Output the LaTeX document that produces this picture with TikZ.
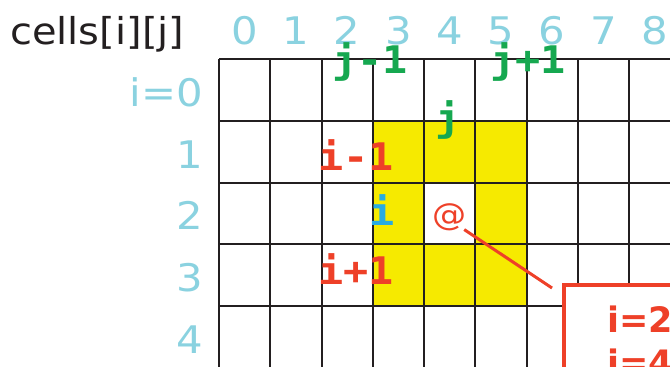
\documentclass[tikz,border=0pt]{standalone}
\usepackage{fontspec}
\newfontfamily\labfont[FakeStretch=1.1]{DejaVu Sans}
\newfontfamily\titlefont[FakeStretch=1.08]{DejaVu Sans}
\newfontfamily\codefont[FakeStretch=1.1]{DejaVu Sans Mono}
\newfontfamily\boxfont{DejaVu Sans}
\definecolor{lblue}{RGB}{138,210,224}
\definecolor{cgreen}{RGB}{22,168,80}
\definecolor{cred}{RGB}{238,64,40}
\definecolor{cblue}{RGB}{41,171,226}
\definecolor{cyell}{RGB}{246,234,0}
\definecolor{gridc}{RGB}{35,31,32}
\begin{document}
\begin{tikzpicture}[x=1pt,y=-1pt,
  gridline/.style={draw=gridc,line width=2pt},
  collab/.style={anchor=base,inner sep=0pt,text=lblue,font=\labfont\fontsize{38}{40}\selectfont},
  rowlab/.style={anchor=base east,inner sep=0pt,text=lblue,font=\labfont\fontsize{38}{40}\selectfont},
  codelab/.style={anchor=base,inner sep=0pt,font=\codefont\bfseries\fontsize{38}{40}\selectfont},
  boxtext/.style={anchor=base west,inner sep=0pt,text=cred,font=\boxfont\bfseries\fontsize{35}{40}\selectfont},
  callout/.style={draw=cred,line width=3.5pt,fill=white}]
\clip (0,0) rectangle (670,367);
\fill[white] (0,0) rectangle (670,367);
% highlighted neighbourhood
\fill[cyell] (373.75,120.75) rectangle (527.5,305.75);
\fill[white] (425,182.5) rectangle (476.25,244.25);
% grid
\foreach \k in {0,...,9} \draw[gridline] ({219+51.25*\k},59) -- ({219+51.25*\k},390);
\foreach \k in {0,...,5} \draw[gridline] (219,{59+61.75*\k}) -- (700,{59+61.75*\k});
% title
\node[anchor=base west,inner sep=0pt,text=gridc,font=\titlefont\fontsize{37}{40}\selectfont] (title) at (10,44) {cells[i][j]};
% column indices
\foreach \k in {0,...,8} \node[collab] (c\k) at ({219+51.25*(\k+0.5)},44.3) {\k};
% row indices
\node[rowlab] (r0) at (203,106) {i=0};
\node[rowlab] (r1) at (203,168) {1};
\node[rowlab] (r2) at (203,229.5) {2};
\node[rowlab] (r3) at (203,291.5) {3};
\node[rowlab] (r4) at (203,353) {4};
% neighbour labels
\node[codelab,text=cgreen] (jm) at (370,73) {j-1};
\node[codelab,text=cgreen] (jp) at (528,73) {j+1};
\node[codelab,text=cgreen] (jj) at (448,131) {j};
\node[codelab,text=cred] (im) at (356,170) {i-1};
\node[codelab,text=cblue] (ii) at (382,225) {i};
\node[codelab,text=cred] (ip) at (356,284) {i+1};
\node[anchor=base,inner sep=0pt,text=cred,font=\labfont\fontsize{31}{36}\selectfont] (at) at (450,225) {@};
% callout
\coordinate (lend) at (552,288);
\draw[cred,line width=3pt] (at.south east) ++(-3,-1) -- (lend);
\node[callout,anchor=north west,minimum width=200pt,minimum height=150pt] (box) at (562,283) {};
\node[boxtext] (bi) at (607,332) {i=2};
\node[boxtext] (bj) at (607,375) {j=4};
\end{tikzpicture}
\end{document}
